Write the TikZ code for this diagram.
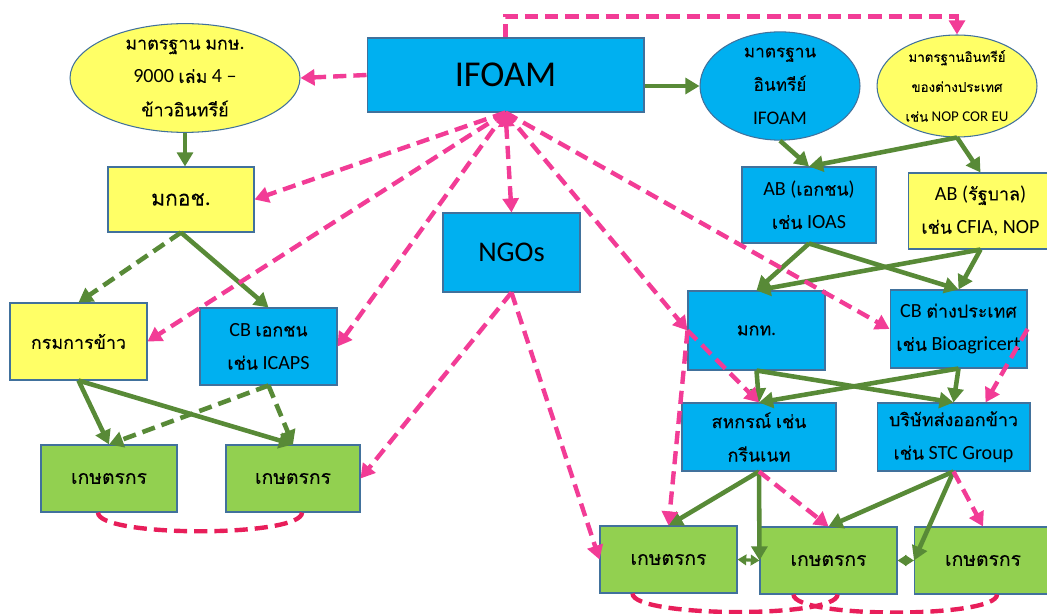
\documentclass[tikz,border=0pt]{standalone}
\usepackage{fontspec}
\setmainfont[Scale=1.12]{Carlito}
\newfontfamily\thaifont[Script=Thai,FakeBold=0.1]{Loma}
\usetikzlibrary{arrows.meta,shapes.geometric}

% Thai letters in Loma, the rest in Carlito
\XeTeXinterchartokenstate=1
\newXeTeXintercharclass\thaichars
\count255="0E00
\loop
  \XeTeXcharclass\count255=\thaichars
  \ifnum\count255<"0E7F \advance\count255 by 1
\repeat
\XeTeXinterchartoks 0 \thaichars = {\thaifont}
\XeTeXinterchartoks 4095 \thaichars = {\thaifont}
\XeTeXinterchartoks \thaichars 0 = {\rmfamily}
\XeTeXinterchartoks \thaichars 4095 = {\rmfamily}

\definecolor{boxblue}{HTML}{00B0F0}
\definecolor{boxyellow}{HTML}{FFFF66}
\definecolor{boxgreen}{HTML}{92D050}
\definecolor{edgeblue}{HTML}{41719C}
\definecolor{arrgreen}{HTML}{588A37}
\definecolor{arrpink}{HTML}{F23C96}
\definecolor{curvepink}{HTML}{E81E5A}

\tikzset{
box/.style={draw=edgeblue, line width=0.6pt, align=center, inner sep=1pt,
  font=\fontsize{10.2}{19}\selectfont},
bluebox/.style={box, fill=boxblue, minimum width=2.74cm, minimum height=1.56cm},
yelbox/.style={box, fill=boxyellow, minimum width=2.74cm, minimum height=1.54cm},
farmbox/.style={box, fill=boxgreen, minimum width=2.74cm, minimum height=1.34cm,
  font=\fontsize{11}{19}\selectfont},
oval/.style={box, ellipse, inner sep=0pt, minimum width=3.2cm, minimum height=2.04cm},
garrow/.style={draw=arrgreen, line width=2.6pt, -{Triangle[length=8pt,width=9pt]}},
gdash/.style={garrow, dash pattern=on 7.5pt off 4pt},
parrow/.style={draw=arrpink, line width=2.5pt, dash pattern=on 7.5pt off 4pt,
  -{Triangle[length=8pt,width=9pt]}},
pcurve/.style={draw=curvepink, line width=2.5pt, dash pattern=on 7.5pt off 4pt},
}

\begin{document}
\begin{tikzpicture}[x=0.02cm,y=-0.02cm]
\useasboundingbox (0,0) rectangle (1047,614);

%%%% top row
\node[bluebox, minimum width=5.54cm, minimum height=1.48cm, font=\fontsize{18.5}{24}\selectfont]
  (ifoam) at (505.5,75) {IFOAM};
\node[oval, fill=boxyellow, minimum width=4.6cm, minimum height=2cm]
  (lstd) at (185,78) {มาตรฐาน มกษ.\\9000 เล่ม 4 –\\ข้าวอินทรีย์};
\node[oval, fill=boxblue, font=\fontsize{9.8}{19}\selectfont] (istd) at (780,86) {มาตรฐาน\\อินทรีย์\\IFOAM};
\node[oval, fill=boxyellow, font=\fontsize{7.6}{17}\selectfont]
  (fstd) at (957,86) {มาตรฐานอินทรีย์\\ของต่างประเทศ\\เช่น NOP COR EU};

%%%% left side
\node[yelbox, minimum width=2.92cm, minimum height=1.3cm, font=\fontsize{12}{19}\selectfont]
  (mkos) at (181,199.5) {มกอช.};
\node[yelbox] (rice) at (78.5,341.5) {กรมการข้าว};
\node[bluebox, minimum height=1.54cm] (cbl) at (268.5,346.5) {CB เอกชน\\เช่น ICAPS};
\node[farmbox, minimum width=2.72cm] (fl1) at (109,478.5) {เกษตรกร};
\node[farmbox, minimum width=2.68cm] (fl2) at (293,478.5) {เกษตรกร};

%%%% middle
\node[bluebox, minimum height=1.58cm, font=\fontsize{14.5}{19}\selectfont]
  (ngo) at (511.5,252.5) {NGOs};

%%%% right side
\node[bluebox, minimum width=2.68cm, minimum height=1.52cm] (abp) at (809,205) {AB (เอกชน)\\เช่น IOAS};
\node[yelbox, minimum width=2.9cm, minimum height=1.52cm] (abg) at (980.5,211) {AB (รัฐบาล)\\เช่น CFIA, NOP};
\node[bluebox, minimum height=1.58cm] (mkt) at (756.5,330.5) {มกท.};
\node[bluebox] (cbf) at (958.5,329) {CB ต่างประเทศ\\เช่น Bioagricert};
\node[bluebox, minimum width=3.08cm, minimum height=1.36cm] (coop) at (759,437) {สหกรณ์ เช่น\\กรีนเนท};
\node[bluebox, minimum width=3.06cm, minimum height=1.36cm] (exp) at (953.5,437) {บริษัทส่งออกข้าว\\เช่น STC Group};
\node[farmbox] (fr1) at (668.5,559.5) {เกษตรกร};
\node[farmbox] (fr2) at (828.5,560.5) {เกษตรกร};
\node[farmbox] (fr3) at (983,560.5) {เกษตรกร};

%%%% green arrows
\draw[garrow] (ifoam.east |- istd.west) -- (istd.west);
\draw[garrow] (lstd.south) -- (lstd.south |- mkos.north);
\draw[gdash] (mkos.south) -- (rice.north);
\foreach \u/\v in {
mkos.south/cbl.north, rice.south/fl1.north, rice.south/fl2.north,
istd.south/abp.north, fstd.south/abp.north, fstd.south/abg.north,
abp.south/mkt.north, abp.south/cbf.north, abg.south/mkt.north, abg.south/cbf.north,
mkt.south/coop.north, mkt.south/exp.north, cbf.south/coop.north, cbf.south/exp.north,
coop.south/fr1.north, coop.south/fr2.west, exp.south/fr2.north, exp.south/fr3.west%
}{
\draw[garrow] (\u) -- (\v);
}
\foreach \u/\v in {cbl.south/fl1.north, cbl.south/fl2.north}{
\draw[gdash] (\u) -- (\v);
}
\foreach \u/\v in {fr1.east/fr2.west, fr2.east/fr3.west}{
\draw[garrow, line width=1.8pt, {Triangle[length=5pt,width=6pt]}-{Triangle[length=5pt,width=6pt]}] (\u) -- (\v);
}

%%%% pink arrows
\draw[parrow] (ifoam.north) -- ++(0,-21) -| (fstd.north);
\draw[parrow] (ifoam.west) -- (lstd.east);
\draw[parrow, {Triangle[length=8pt,width=9pt]}-{Triangle[length=8pt,width=9pt]}] (ifoam.south) -- (ngo.north);
\foreach \u/\v in {
ifoam.south/mkos.east, ifoam.south/rice.east, ifoam.south/cbl.east,
ifoam.south/mkt.west, ifoam.south/cbf.west,
mkt.west/coop.north, mkt.west/fr1.north,
ngo.south/fl2.east, ngo.south/fr1.west,
coop.south/fr2.north, exp.south/fr3.north%
}{
\draw[parrow] (\u) -- (\v);
}
\draw[parrow] (cbf.east) -- ([xshift=0.64cm]exp.north);

%%%% farmer links
\draw[pcurve] ([xshift=-0.22cm]fl1.south) .. controls +(0,25) and +(0,25) .. ([xshift=0.18cm]fl2.south);
\draw[pcurve] ([xshift=-0.72cm]fr1.south) .. controls +(0,24) and +(0,24) .. ([xshift=0.18cm]fr2.south);
\draw[pcurve] ([xshift=-0.7cm]fr2.south) .. controls +(0,24) and +(0,24) .. ([xshift=0.28cm]fr3.south);

\end{tikzpicture}
\end{document}
